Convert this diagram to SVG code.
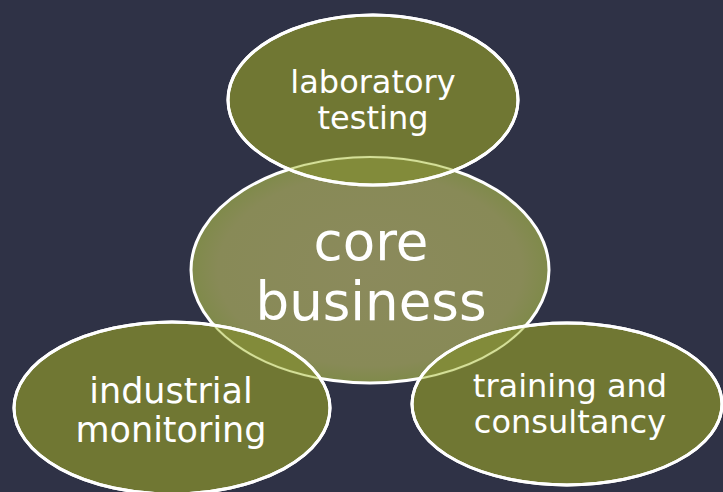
<svg xmlns="http://www.w3.org/2000/svg" width="723" height="492" viewBox="0 0 723 492">
<defs>
<style>
.lbl{font-family:"DejaVu Sans",Verdana,sans-serif;fill:#ffffff;text-anchor:middle}
.outer{fill:#747b33;fill-opacity:0.95;stroke:#ffffff;stroke-width:3}
.core{stroke:#ffffff;stroke-width:3}
.glow{fill:#a2ae48;fill-opacity:0.3}
</style>
<clipPath id="cTop"><ellipse cx="373" cy="100" rx="145" ry="85"/></clipPath>
<clipPath id="cLeft"><ellipse cx="172" cy="408" rx="158" ry="86"/></clipPath>
<clipPath id="cRight"><ellipse cx="567" cy="404" rx="155" ry="81"/></clipPath>
<radialGradient id="coreGrad" cx="0.5" cy="0.5" r="0.5">
<stop offset="0" stop-color="#8b8a5c"/>
<stop offset="0.85" stop-color="#888a57"/>
<stop offset="1" stop-color="#7f8a4a"/>
</radialGradient>
</defs>
<rect width="723" height="492" fill="#2f3246"/>
<g id="core">
<ellipse class="core" cx="370" cy="270" rx="179" ry="113" fill="url(#coreGrad)"/>
</g>
<g id="laboratory-testing">
<ellipse class="outer" cx="373" cy="100" rx="145" ry="85"/>
<text class="lbl" x="373" y="93" font-size="32">laboratory</text>
<text class="lbl" x="373" y="129" font-size="32">testing</text>
</g>
<g id="industrial-monitoring">
<ellipse class="outer" cx="172" cy="408" rx="158" ry="86"/>
<text class="lbl" x="171" y="403" font-size="35">industrial</text>
<text class="lbl" x="171" y="442" font-size="35">monitoring</text>
</g>
<g id="training-consultancy">
<ellipse class="outer" cx="567" cy="404" rx="155" ry="81"/>
<text class="lbl" x="570" y="397" font-size="32">training and</text>
<text class="lbl" x="570" y="433" font-size="32">consultancy</text>
</g>
<g id="overlaps">
<ellipse class="glow" cx="370" cy="270" rx="179" ry="113" clip-path="url(#cTop)"/>
<ellipse class="glow" cx="370" cy="270" rx="179" ry="113" clip-path="url(#cLeft)"/>
<ellipse class="glow" cx="370" cy="270" rx="179" ry="113" clip-path="url(#cRight)"/>
<ellipse cx="370" cy="270" rx="179" ry="113" fill="none" stroke="#d4df98" stroke-width="2" clip-path="url(#cTop)"/>
<ellipse cx="370" cy="270" rx="179" ry="113" fill="none" stroke="#d4df98" stroke-width="2" clip-path="url(#cLeft)"/>
<ellipse cx="370" cy="270" rx="179" ry="113" fill="none" stroke="#d4df98" stroke-width="2" clip-path="url(#cRight)"/>
<ellipse cx="373" cy="100" rx="145" ry="85" fill="none" stroke="#ffffff" stroke-width="3"/>
<ellipse cx="172" cy="408" rx="158" ry="86" fill="none" stroke="#ffffff" stroke-width="3"/>
<ellipse cx="567" cy="404" rx="155" ry="81" fill="none" stroke="#ffffff" stroke-width="3"/>
</g>
<g id="core-label">
<text class="lbl" x="371" y="260" font-size="53">core</text>
<text class="lbl" x="371" y="320" font-size="53">business</text>
</g>
<g id="connectors"/>
</svg>
